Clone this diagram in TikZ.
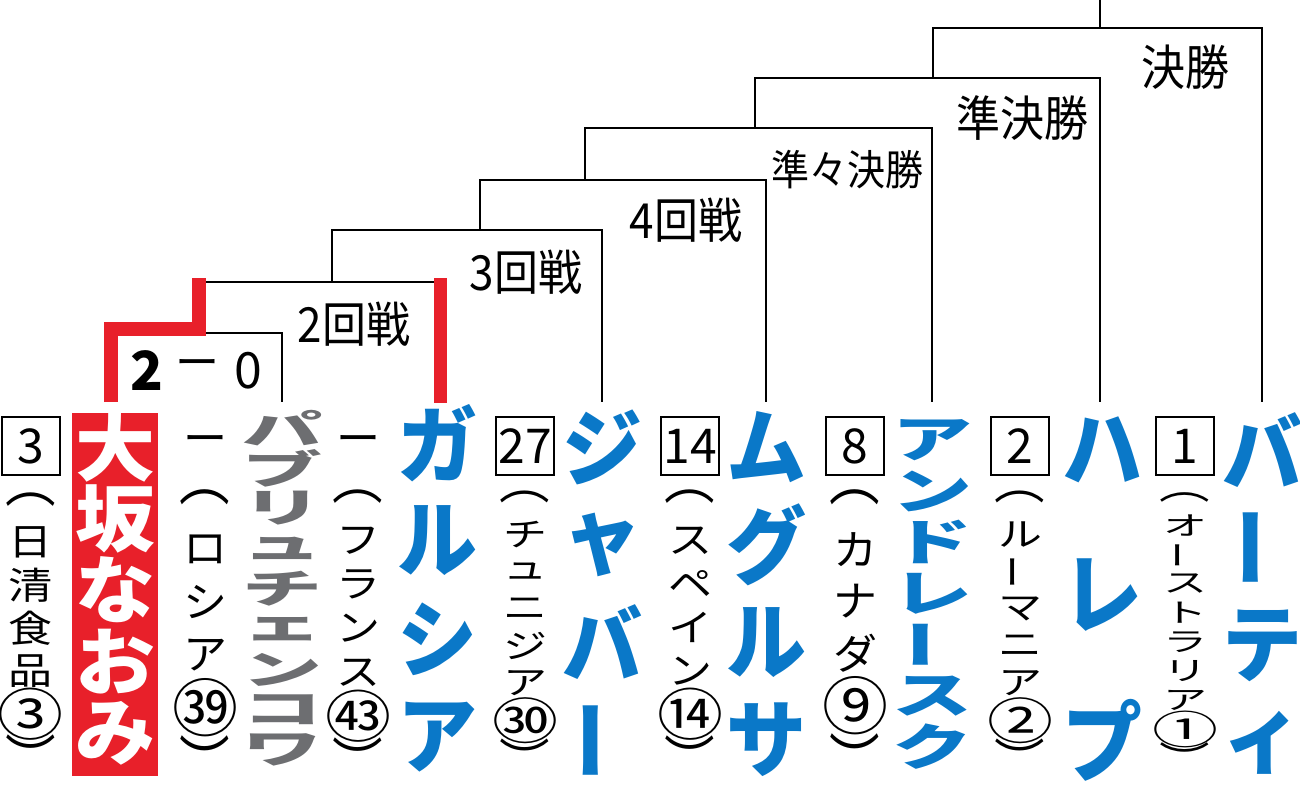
\documentclass[tikz,border=0pt]{standalone}
\usepackage{fontspec}
\newfontfamily\cjk{Noto Sans CJK JP}
\definecolor{tblue}{HTML}{0A78C8}
\definecolor{tred}{HTML}{E8202A}
\definecolor{tgray}{HTML}{6D6E71}
\newcommand\vbar{\rotatebox[origin=c]{90}{ー}}
\newcommand\cn[1]{\scalebox{1.5}{#1}}
\newcommand\po{\scalebox{1.15}[1.4]{︵}}
\newcommand\pc{\scalebox{1.15}[1.4]{︶}}
\newcommand\vcol[6]{%
  \foreach \c [count=\i] in {#6}{%
    \pgfmathsetmacro\yy{#2+(\i-1)*(#3-#2)/(#4-1)}%
    \node[#5] (c#1-\i) at (#1,\yy) {\c};
  }}
\tikzset{
  ln/.style={line width=2.6pt},
  rl/.style={line width=14pt,tred,line join=miter},
  thin/.style={font=\cjk\fontsize{44}{44}\selectfont,inner sep=0,yscale=#1,transform shape},
  big/.style={font=\cjk\bfseries\fontsize{80}{80}\selectfont,inner sep=0,yscale=#1,transform shape},
  seed/.style={draw,line width=2.4pt,minimum width=58pt,minimum height=58pt,inner sep=0,font=\cjk\fontsize{48}{48}\selectfont},
  rnd/.style={font=\cjk\fontsize{44}{44}\selectfont,inner sep=0,yscale=1.1,transform shape}
}
\begin{document}
\begin{tikzpicture}[x=1pt,y=-1pt]
\useasboundingbox (0,0) rectangle (1300,784);
% red background for Osaka
\fill[tred] (72,413) rectangle (158,776);
% bracket lines
\coordinate (pv) at (282,402);
\coordinate (ga) at (440,403);
\coordinate (jb) at (602,402);
\coordinate (mg) at (766,402);
\coordinate (an) at (932,402);
\coordinate (ha) at (1100,402);
\coordinate (ba) at (1262,402);
\coordinate (os) at (111,402);
\coordinate (top) at (1100,0);
\draw[ln] (205,333) -- (282,333) -- (pv);
\draw[ln] (205,282) -- (434,282);
\draw[ln] (332,282) -- (332,230) -- (602,230) -- (jb);
\draw[ln] (480,230) -- (480,180) -- (766,180) -- (mg);
\draw[ln] (585,180) -- (585,128) -- (932,128) -- (an);
\draw[ln] (755,128) -- (755,78) -- (1100,78) -- (ha);
\draw[ln] (933,78) -- (933,28) -- (1262,28) -- (ba);
\draw[ln] (1100,28) -- (top);
\draw[rl] (os) -- (111,329) -- (199,329) -- (199,278);
\draw[rl,line width=13pt] (440,278) -- (ga);
% round labels
\node[rnd] (r2) at (354,324) {2回戦};
\node[rnd] (r3) at (526,272) {3回戦};
\node[rnd] (r4) at (686,220) {4回戦};
\node[rnd,font=\cjk\fontsize{38}{38}\selectfont] (r5) at (847,170) {準々決勝};
\node[rnd] (r6) at (1022,118) {準決勝};
\node[rnd] (r7) at (1185,67) {決勝};
% score
\node[font=\cjk\bfseries\fontsize{54}{54}\selectfont,inner sep=0] (s1) at (147,371) {2};
\node[font=\cjk\fontsize{44}{44}\selectfont,inner sep=0] (s2) at (197,369) {ー};
\node[font=\cjk\fontsize{50}{50}\selectfont,inner sep=0] (s3) at (248,371) {0};
% seeds
\node[seed] (b3) at (31,446) {3};
\node[seed] (b27) at (525,446) {27};
\node[seed] (b14) at (690,446) {14};
\node[seed] (b8) at (855,446) {8};
\node[seed] (b2) at (1020,446) {2};
\node[seed] (b1) at (1185,446) {1};
% dashes
\node[thin=1] (d1) at (205,445) {ー};
\node[thin=1] (d2) at (358,445) {ー};
% text columns
\vcol{31}{500}{757}{7}{thin=0.85}{\po,日,清,食,品,\cn{③},\pc}
\vcol{115}{447}{733}{5}{big=0.92,white}{大,坂,な,お,み}
\vcol{205}{497}{760}{6}{thin=0.95}{\po,ロ,シ,ア,\cn{㊴},\pc}
\vcol{282}{428}{750}{9}{big=0.5,tgray}{パ,ブ,リ,ュ,チ,ェ,ン,コ,ワ}
\vcol{358}{497}{760}{7}{thin=0.85}{\po,フ,ラ,ン,ス,\cn{㊸},\pc}
\vcol{437}{443}{737}{4}{big=1.05,tblue}{ガ,ル,シ,ア}
\vcol{525}{497}{758}{8}{thin=0.75}{\po,チ,ュ,ニ,ジ,ア,\cn{㉚},\pc}
\vcol{602}{447}{740}{4}{big=1.05,tblue}{ジ,ャ,バ,\vbar}
\vcol{690}{497}{758}{7}{thin=0.85}{\po,ス,ペ,イ,ン,\cn{⑭},\pc}
\vcol{766}{447}{740}{4}{big=1.05,tblue}{ム,グ,ル,サ}
\vcol{855}{497}{758}{6}{thin=0.95}{\po,カ,ナ,ダ,\cn{⑨},\pc}
\vcol{932}{440}{747}{7}{big=0.62,tblue}{ア,ン,ド,レ,\vbar,ス,ク}
\vcol{1020}{497}{758}{8}{thin=0.75}{\po,ル,\vbar,マ,ニ,ア,\cn{②},\pc}
\vcol{1102}{450}{740}{3}{big=1.1,tblue}{ハ,レ,プ}
\vcol{1185}{497}{758}{10}{thin=0.6}{\po,オ,\vbar,ス,ト,ラ,リ,ア,\cn{①},\pc}
\vcol{1262}{450}{743}{4}{big=1.05,tblue}{バ,\vbar,テ,ィ}
\end{tikzpicture}
\end{document}
